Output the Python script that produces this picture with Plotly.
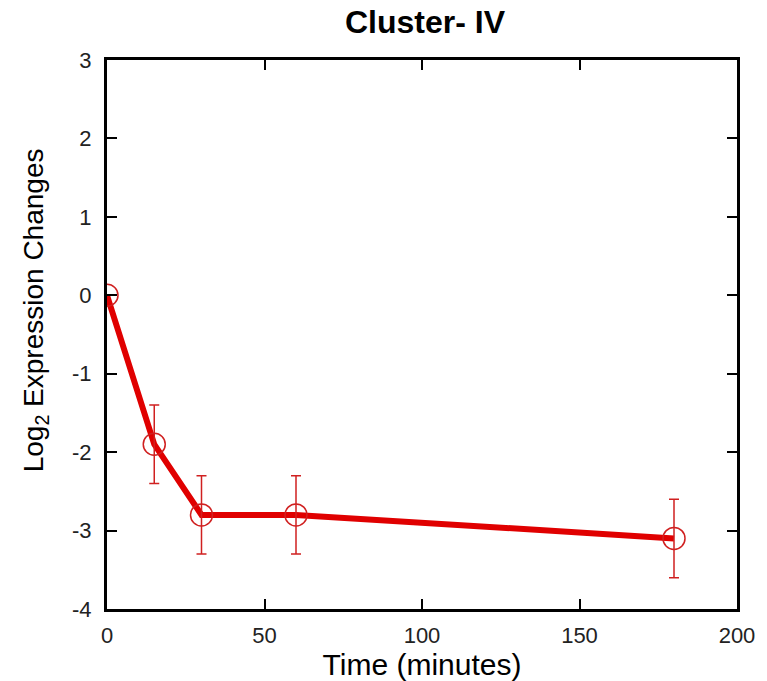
import plotly.graph_objects as go

time_min = [0, 15, 30, 60, 180]
log2_change = [0, -1.9, -2.8, -2.8, -3.1]
err = [0, 0.5, 0.5, 0.5, 0.5]

x_ticks = [0, 50, 100, 150, 200]
x_labels = ["0", "50", "100", "150", "200"]
y_ticks = [-4, -3, -2, -1, 0, 1, 2, 3]
y_labels = ["-4", "-3", "-2", "-1", "0", "1", "2", "3"]

red = "#e00000"
font = "Liberation Sans, Arial, sans-serif"

fig = go.Figure()
fig.add_trace(go.Scatter(
    x=time_min, y=log2_change, mode="lines",
    line=dict(color=red, width=6), showlegend=False, hoverinfo="skip"))
fig.add_trace(go.Scatter(
    x=time_min, y=log2_change, mode="markers",
    marker=dict(symbol="circle-open", size=22, color="#d02020", line=dict(width=1.5, color="#d02020")),
    error_y=dict(type="data", array=err, visible=True, color="#d02020", thickness=1.5, width=5),
    showlegend=False))

axis_common = dict(
    showline=True, linecolor="black", linewidth=3, mirror="ticks",
    ticks="inside", ticklen=10, tickwidth=2, tickcolor="black",
    showgrid=False, zeroline=False,
    tickfont=dict(family=font, size=22, color="#222222"))

fig.update_xaxes(range=[0, 200], tickvals=x_ticks, ticktext=x_labels, ticklabelstandoff=5,
                 title=dict(text="Time (minutes)", font=dict(family=font, size=30, color="black"), standoff=0),
                 **axis_common)
fig.update_yaxes(range=[-4, 3], tickvals=y_ticks, ticktext=y_labels, ticklabelstandoff=8,
                 **axis_common)

fig.add_annotation(
    text="Log<sub>2</sub> Expression Changes", textangle=-90,
    xref="paper", yref="paper", x=(35 - 107) / 636, y=(612 - 312) / 552,
    xanchor="center", yanchor="middle", showarrow=False,
    font=dict(family=font, size=28, color="black"))

fig.update_layout(
    width=767, height=681,
    margin=dict(l=107, r=24, t=60, b=69),
    paper_bgcolor="white", plot_bgcolor="white",
    title=dict(text="<b>Cluster- IV</b>", x=(107 + 743) / 2 / 767, xanchor="center",
               y=1 - 22 / 681, yanchor="middle",
               font=dict(family=font, size=32, color="black")))

fig.write_html("out.html")
